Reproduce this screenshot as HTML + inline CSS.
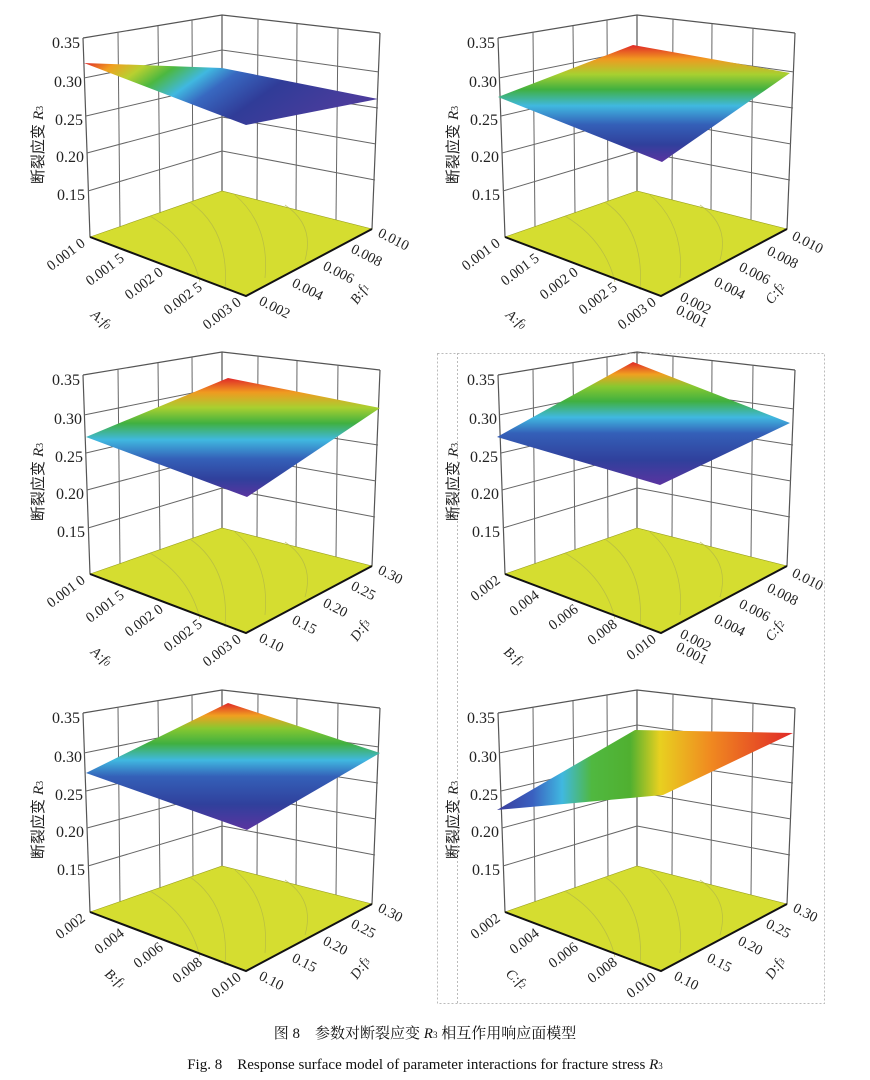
<!DOCTYPE html>
<html><head><meta charset="utf-8"><style>
html,body{margin:0;padding:0;background:#fff;width:870px;height:1080px;overflow:hidden}
svg{display:block}
.t{font-family:"Liberation Serif","Noto Serif CJK SC",serif;font-size:16px;fill:#222}
.s{font-family:"Liberation Serif",serif;font-size:14.5px;fill:#222}
.c{font-family:"Liberation Sans","Noto Sans CJK SC",sans-serif;font-size:15px;fill:#222}
.ax{font-family:"Liberation Serif",serif;font-size:14px;font-style:italic;fill:#222}
</style></head><body>
<svg width="870" height="1080" viewBox="0 0 870 1080" xmlns="http://www.w3.org/2000/svg">
<defs>
<g id="frame">
 <g stroke="#555" stroke-width="1.2" fill="none">
  <polyline points="83,38 222,15 380,33"/>
  <line x1="83" y1="38" x2="90" y2="237"/>
  <line x1="222" y1="15" x2="222" y2="191"/>
  <line x1="380" y1="33" x2="372" y2="229"/>
 </g>
 <g stroke="#666" stroke-width="1" fill="none">
  <line x1="84" y1="78" x2="222" y2="50"/>
  <line x1="86" y1="116" x2="222" y2="84"/>
  <line x1="87" y1="153" x2="222" y2="117"/>
  <line x1="88" y1="191" x2="222" y2="151"/>
  <line x1="222" y1="50" x2="379" y2="72"/>
  <line x1="222" y1="84" x2="378" y2="108"/>
  <line x1="222" y1="117" x2="376" y2="144"/>
  <line x1="222" y1="151" x2="375" y2="180"/>
  <line x1="118" y1="32" x2="120" y2="227"/>
  <line x1="158" y1="26" x2="160" y2="213"/>
  <line x1="192" y1="20" x2="193" y2="201"/>
  <line x1="258" y1="19" x2="257" y2="200"/>
  <line x1="297" y1="24" x2="296" y2="210"/>
  <line x1="338" y1="28" x2="336" y2="220"/>
 </g>
 <polygon points="90,237 222,191 372,229 246,296" fill="#d5dd30" stroke="#9aa020" stroke-width="0.6"/>
 <g stroke="#b0b548" stroke-width="0.8" fill="none" opacity="0.7">
  <path d="M150,216 Q190,240 200,282"/>
  <path d="M190,202 Q230,230 225,290"/>
  <path d="M235,195 Q270,225 265,278"/>
  <path d="M285,205 Q315,225 305,260"/>
 </g>
 <g stroke="#111" stroke-width="2" fill="none">
  <polyline points="90,237 246,296 372,229"/>
 </g>
 <g class="t" text-anchor="end">
  <text x="80" y="48">0.35</text><text x="82" y="87">0.30</text><text x="83" y="125">0.25</text><text x="84" y="162">0.20</text><text x="85" y="200">0.15</text>
 </g>
 <text class="c" transform="translate(43,145) rotate(-90)" text-anchor="middle">断裂应变 <tspan font-family="Liberation Serif" font-style="italic">R</tspan><tspan font-size="10" font-family="Liberation Serif">3</tspan></text>
</g>
<linearGradient id="g1" x1="0" y1="0" x2="1" y2="0.3">
 <stop offset="0" stop-color="#e0282a"/><stop offset="0.1" stop-color="#f0a020"/><stop offset="0.2" stop-color="#b8d030"/><stop offset="0.3" stop-color="#4cb840"/><stop offset="0.42" stop-color="#40b8e0"/><stop offset="0.52" stop-color="#3868c0"/><stop offset="0.7" stop-color="#303c98"/><stop offset="1" stop-color="#4a3c9c"/>
</linearGradient>
<linearGradient id="g2" x1="0" y1="0" x2="0" y2="1">
 <stop offset="0" stop-color="#e02828"/><stop offset="0.12" stop-color="#f09a20"/><stop offset="0.25" stop-color="#a8d030"/><stop offset="0.38" stop-color="#40b040"/><stop offset="0.52" stop-color="#40b8e0"/><stop offset="0.68" stop-color="#3460b8"/><stop offset="0.85" stop-color="#30409c"/><stop offset="1" stop-color="#5a34a0"/>
</linearGradient>
<linearGradient id="g4" x1="0" y1="0" x2="0" y2="1">
 <stop offset="0" stop-color="#e02828"/><stop offset="0.1" stop-color="#f0a020"/><stop offset="0.2" stop-color="#88c830"/><stop offset="0.32" stop-color="#40b040"/><stop offset="0.45" stop-color="#40b8e0"/><stop offset="0.58" stop-color="#3460b8"/><stop offset="0.8" stop-color="#30409c"/><stop offset="1" stop-color="#5a34a0"/>
</linearGradient>
<linearGradient id="g6" x1="0" y1="0" x2="1" y2="0">
 <stop offset="0" stop-color="#3a3c9a"/><stop offset="0.12" stop-color="#3a60c0"/><stop offset="0.22" stop-color="#40b8e0"/><stop offset="0.32" stop-color="#50b840"/><stop offset="0.45" stop-color="#50b030"/><stop offset="0.55" stop-color="#e8d020"/><stop offset="0.72" stop-color="#f08a20"/><stop offset="1" stop-color="#e02828"/>
</linearGradient>
</defs>

<!-- Panel 1 -->
<g>
 <use href="#frame"/>
 <polygon points="84,63 222,68 378,99 246,125" fill="url(#g1)"/>
 <g class="s" text-anchor="end">
  <text transform="translate(86,245) rotate(-37)">0.001 0</text>
  <text transform="translate(125,260) rotate(-37)">0.001 5</text>
  <text transform="translate(164,274) rotate(-37)">0.002 0</text>
  <text transform="translate(203,289) rotate(-37)">0.002 5</text>
  <text transform="translate(242,304) rotate(-37)">0.003 0</text>
 </g>
 <g class="s">
  <text transform="translate(258,304) rotate(27)">0.002</text>
  <text transform="translate(291,286) rotate(27)">0.004</text>
  <text transform="translate(322,269) rotate(27)">0.006</text>
  <text transform="translate(350,252) rotate(27)">0.008</text>
  <text transform="translate(377,236) rotate(27)">0.010</text>
 </g>
 <text class="ax" transform="translate(90,316) rotate(40)">A:f<tspan font-size="9">0</tspan></text>
 <text class="ax" transform="translate(357,305) rotate(-55)">B:f<tspan font-size="9">1</tspan></text>
</g>

<!-- Panel 2 -->
<g transform="translate(415,0)">
 <use href="#frame"/>
 <polygon points="83,97 218,45 375,73 247,162" fill="url(#g2)"/>
 <g class="s" text-anchor="end">
  <text transform="translate(86,245) rotate(-37)">0.001 0</text>
  <text transform="translate(125,260) rotate(-37)">0.001 5</text>
  <text transform="translate(164,274) rotate(-37)">0.002 0</text>
  <text transform="translate(203,289) rotate(-37)">0.002 5</text>
  <text transform="translate(242,304) rotate(-37)">0.003 0</text>
 </g>
 <g class="s">
  <text transform="translate(260,313) rotate(27)">0.001</text>
  <text transform="translate(264,300) rotate(27)">0.002</text>
  <text transform="translate(298,285) rotate(27)">0.004</text>
  <text transform="translate(323,270) rotate(27)">0.006</text>
  <text transform="translate(351,254) rotate(27)">0.008</text>
  <text transform="translate(376,239) rotate(27)">0.010</text>
 </g>
 <text class="ax" transform="translate(90,316) rotate(40)">A:f<tspan font-size="9">0</tspan></text>
 <text class="ax" transform="translate(357,305) rotate(-55)">C:f<tspan font-size="9">2</tspan></text>
</g>

<!-- Panel 3 -->
<g transform="translate(0,337)">
 <use href="#frame"/>
 <polygon points="86,100 228,41 380,71 247,160" fill="url(#g2)"/>
 <g class="s" text-anchor="end">
  <text transform="translate(86,245) rotate(-37)">0.001 0</text>
  <text transform="translate(125,260) rotate(-37)">0.001 5</text>
  <text transform="translate(164,274) rotate(-37)">0.002 0</text>
  <text transform="translate(203,289) rotate(-37)">0.002 5</text>
  <text transform="translate(242,304) rotate(-37)">0.003 0</text>
 </g>
 <g class="s">
  <text transform="translate(258,304) rotate(27)">0.10</text>
  <text transform="translate(291,286) rotate(27)">0.15</text>
  <text transform="translate(322,269) rotate(27)">0.20</text>
  <text transform="translate(350,252) rotate(27)">0.25</text>
  <text transform="translate(377,236) rotate(27)">0.30</text>
 </g>
 <text class="ax" transform="translate(90,316) rotate(40)">A:f<tspan font-size="9">0</tspan></text>
 <text class="ax" transform="translate(357,305) rotate(-55)">D:f<tspan font-size="9">3</tspan></text>
</g>

<!-- Panel 4 -->
<g transform="translate(415,337)">
 <use href="#frame"/>
 <polygon points="82,100 218,25 375,86 245,148" fill="url(#g4)"/>
 <g class="s" text-anchor="end">
  <text transform="translate(86,245) rotate(-37)">0.002</text>
  <text transform="translate(125,260) rotate(-37)">0.004</text>
  <text transform="translate(164,274) rotate(-37)">0.006</text>
  <text transform="translate(203,289) rotate(-37)">0.008</text>
  <text transform="translate(242,304) rotate(-37)">0.010</text>
 </g>
 <g class="s">
  <text transform="translate(260,313) rotate(27)">0.001</text>
  <text transform="translate(264,300) rotate(27)">0.002</text>
  <text transform="translate(298,285) rotate(27)">0.004</text>
  <text transform="translate(323,270) rotate(27)">0.006</text>
  <text transform="translate(351,254) rotate(27)">0.008</text>
  <text transform="translate(376,239) rotate(27)">0.010</text>
 </g>
 <text class="ax" transform="translate(88,316) rotate(40)">B:f<tspan font-size="9">1</tspan></text>
 <text class="ax" transform="translate(357,305) rotate(-55)">C:f<tspan font-size="9">2</tspan></text>
</g>

<!-- Panel 5 -->
<g transform="translate(0,675)">
 <use href="#frame"/>
 <polygon points="86,98 228,28 380,78 247,155" fill="url(#g4)"/>
 <g class="s" text-anchor="end">
  <text transform="translate(86,245) rotate(-37)">0.002</text>
  <text transform="translate(125,260) rotate(-37)">0.004</text>
  <text transform="translate(164,274) rotate(-37)">0.006</text>
  <text transform="translate(203,289) rotate(-37)">0.008</text>
  <text transform="translate(242,304) rotate(-37)">0.010</text>
 </g>
 <g class="s">
  <text transform="translate(258,304) rotate(27)">0.10</text>
  <text transform="translate(291,286) rotate(27)">0.15</text>
  <text transform="translate(322,269) rotate(27)">0.20</text>
  <text transform="translate(350,252) rotate(27)">0.25</text>
  <text transform="translate(377,236) rotate(27)">0.30</text>
 </g>
 <text class="ax" transform="translate(104,300) rotate(40)">B:f<tspan font-size="9">1</tspan></text>
 <text class="ax" transform="translate(357,305) rotate(-55)">D:f<tspan font-size="9">3</tspan></text>
</g>

<!-- Panel 6 -->
<g transform="translate(415,675)">
 <use href="#frame"/>
 <polygon points="82,135 220,55 378,58 248,120" fill="url(#g6)"/>
 <g class="s" text-anchor="end">
  <text transform="translate(86,245) rotate(-37)">0.002</text>
  <text transform="translate(125,260) rotate(-37)">0.004</text>
  <text transform="translate(164,274) rotate(-37)">0.006</text>
  <text transform="translate(203,289) rotate(-37)">0.008</text>
  <text transform="translate(242,304) rotate(-37)">0.010</text>
 </g>
 <g class="s">
  <text transform="translate(258,304) rotate(27)">0.10</text>
  <text transform="translate(291,286) rotate(27)">0.15</text>
  <text transform="translate(322,269) rotate(27)">0.20</text>
  <text transform="translate(350,252) rotate(27)">0.25</text>
  <text transform="translate(377,236) rotate(27)">0.30</text>
 </g>
 <text class="ax" transform="translate(90,300) rotate(40)">C:f<tspan font-size="9">2</tspan></text>
 <text class="ax" transform="translate(357,305) rotate(-55)">D:f<tspan font-size="9">3</tspan></text>
</g>

<!-- dashed box -->
<g stroke="#bbb" stroke-width="1" stroke-dasharray="2,2" fill="none">
 <rect x="437.5" y="353.5" width="387" height="650"/>
 <line x1="457.5" y1="353" x2="457.5" y2="1004"/>
</g>

<text x="425" y="1038" text-anchor="middle" font-family="Liberation Serif,'Noto Serif CJK SC',serif" font-size="15" fill="#111">图 8　参数对断裂应变 <tspan font-style="italic">R</tspan><tspan font-size="9">3</tspan> 相互作用响应面模型</text>
<text x="425" y="1069" text-anchor="middle" font-family="Liberation Serif,serif" font-size="15" fill="#111">Fig. 8　Response surface model of parameter interactions for fracture stress <tspan font-style="italic">R</tspan><tspan font-size="9">3</tspan></text>
</svg>
</body></html>
